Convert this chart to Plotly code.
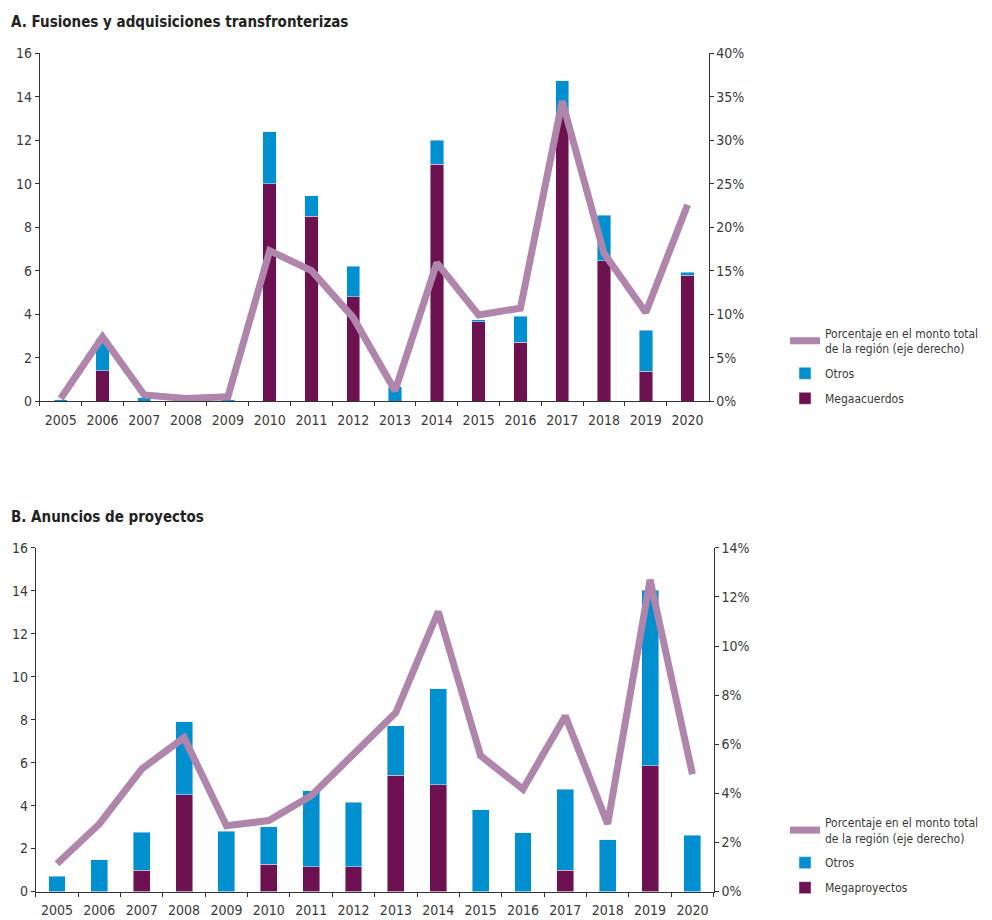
import plotly.graph_objects as go

years = [str(y) for y in range(2005, 2021)]

# Panel A: Fusiones y adquisiciones transfronterizas
a_mega = [0, 1.4, 0, 0, 0, 10.0, 8.5, 4.8, 0, 10.9, 3.65, 2.7, 13.3, 6.45, 1.38, 5.8]
a_total = [0.05, 2.85, 0.15, 0, 0.05, 12.4, 9.45, 6.2, 0.65, 12.0, 3.75, 3.9, 14.75, 8.55, 3.26, 5.92]
a_otros = [round(t - m, 2) for t, m in zip(a_total, a_mega)]
a_pct = [0.3, 7.4, 0.7, 0.3, 0.5, 17.3, 15.0, 9.6, 1.2, 15.9, 9.9, 10.7, 34.5, 17.0, 10.2, 22.6]

# Panel B: Anuncios de proyectos
b_mega = [0, 0, 0.98, 4.5, 0, 1.28, 1.16, 1.16, 5.42, 4.97, 0, 0, 0.98, 0, 5.85, 0]
b_total = [0.72, 1.47, 2.76, 7.9, 2.8, 3.02, 4.7, 4.15, 7.72, 9.45, 3.8, 2.74, 4.76, 2.4, 14.03, 2.62]
b_otros = [round(t - m, 2) for t, m in zip(b_total, b_mega)]
b_pct = [1.13, 2.75, 4.99, 6.27, 2.68, 2.89, 3.9, 5.6, 7.29, 11.4, 5.53, 4.17, 7.15, 2.75, 12.7, 4.78]

C_MEGA = "#6D1150"
C_OTROS = "#008FCF"
C_LINE = "#B085AB"
FONT = "DejaVu Sans Condensed, Liberation Sans Narrow, Arial Narrow, sans-serif"
TXT = "#3a3a3a"

W, H = 992, 920
PCT_NAME = "Porcentaje en el monto total<br>de la región (eje derecho)"

fig = go.Figure()

# Panel A traces
fig.add_trace(go.Bar(x=years, y=a_mega, name="Megaacuerdos", marker_color=C_MEGA,
                     width=0.32, xaxis="x", yaxis="y", legend="legend", legendrank=3,
                     legendgroup="a3"))
fig.add_trace(go.Bar(x=years, y=a_otros, name="Otros", marker_color=C_OTROS,
                     width=0.32, xaxis="x", yaxis="y", legend="legend", legendrank=2,
                     legendgroup="a2"))
fig.add_trace(go.Scatter(x=years, y=[v / 100 for v in a_pct], mode="lines", name=PCT_NAME,
                         line=dict(color=C_LINE, width=7), xaxis="x", yaxis="y2",
                         legend="legend", legendrank=1, legendgroup="a1"))

# Panel B traces
fig.add_trace(go.Bar(x=years, y=b_mega, name="Megaproyectos", marker_color=C_MEGA,
                     width=0.4, xaxis="x2", yaxis="y3", legend="legend2", legendrank=3,
                     legendgroup="b3"))
fig.add_trace(go.Bar(x=years, y=b_otros, name="Otros", marker_color=C_OTROS,
                     width=0.4, xaxis="x2", yaxis="y3", legend="legend2", legendrank=2,
                     legendgroup="b2"))
fig.add_trace(go.Scatter(x=years, y=[v / 100 for v in b_pct], mode="lines", name=PCT_NAME,
                         line=dict(color=C_LINE, width=7), xaxis="x2", yaxis="y4",
                         legend="legend2", legendrank=1, legendgroup="b1"))

axis_common = dict(showline=True, linecolor="#333", linewidth=1, ticks="outside",
                   ticklen=4, tickcolor="#333", showgrid=False, zeroline=False,
                   tickfont=dict(family=FONT, size=14, color=TXT))

xa = [31.8 / W, 700.5 / W]
ya = [1 - 391.9 / H, 1 - 38.1 / H]
xb = [27.8 / W, 705.6 / W]
yb = [1 - 891.0 / H, 1 - 541.3 / H]

legend_common = dict(xanchor="left", yanchor="top", traceorder="grouped",
                     font=dict(family=FONT, size=12, color=TXT),
                     bgcolor="rgba(0,0,0,0)", itemwidth=30, tracegroupgap=6)

fig.update_layout(
    width=W, height=H, barmode="stack",
    margin=dict(l=0, r=0, t=0, b=0),
    paper_bgcolor="white", plot_bgcolor="white",
    font=dict(family=FONT, size=13, color=TXT),
    xaxis=dict(domain=xa, anchor="y", type="category", tickson="boundaries",
               ticklabelstandoff=6, **axis_common),
    yaxis=dict(domain=ya, anchor="x", range=[0, 16], dtick=2, **axis_common),
    yaxis2=dict(overlaying="y", side="right", anchor="x", range=[0, 0.40], dtick=0.05,
                tickformat=".0%", **axis_common),
    xaxis2=dict(domain=xb, anchor="y3", type="category", tickson="boundaries",
                ticklabelstandoff=6, **axis_common),
    yaxis3=dict(domain=yb, anchor="x2", range=[0, 16], dtick=2, **axis_common),
    yaxis4=dict(overlaying="y3", side="right", anchor="x2", range=[0, 0.14], dtick=0.02,
                tickformat=".0%", **axis_common),
    legend=dict(x=777 / W, y=1 - 308 / H, **legend_common),
    legend2=dict(x=777 / W, y=1 - 806 / H, **legend_common),
    showlegend=True,
    annotations=[
        dict(text="<b>A. Fusiones y adquisiciones transfronterizas</b>", x=1 / W, y=1 - 5.6 / H,
             xref="paper", yref="paper", xanchor="left", yanchor="middle", showarrow=False,
             font=dict(family=FONT, size=15, color="#222")),
        dict(text="<b>B. Anuncios de proyectos</b>", x=1 / W, y=1 - 509.8 / H,
             xref="paper", yref="paper", xanchor="left", yanchor="middle", showarrow=False,
             font=dict(family=FONT, size=15, color="#222")),
    ],
)

fig.write_html("out.html")
